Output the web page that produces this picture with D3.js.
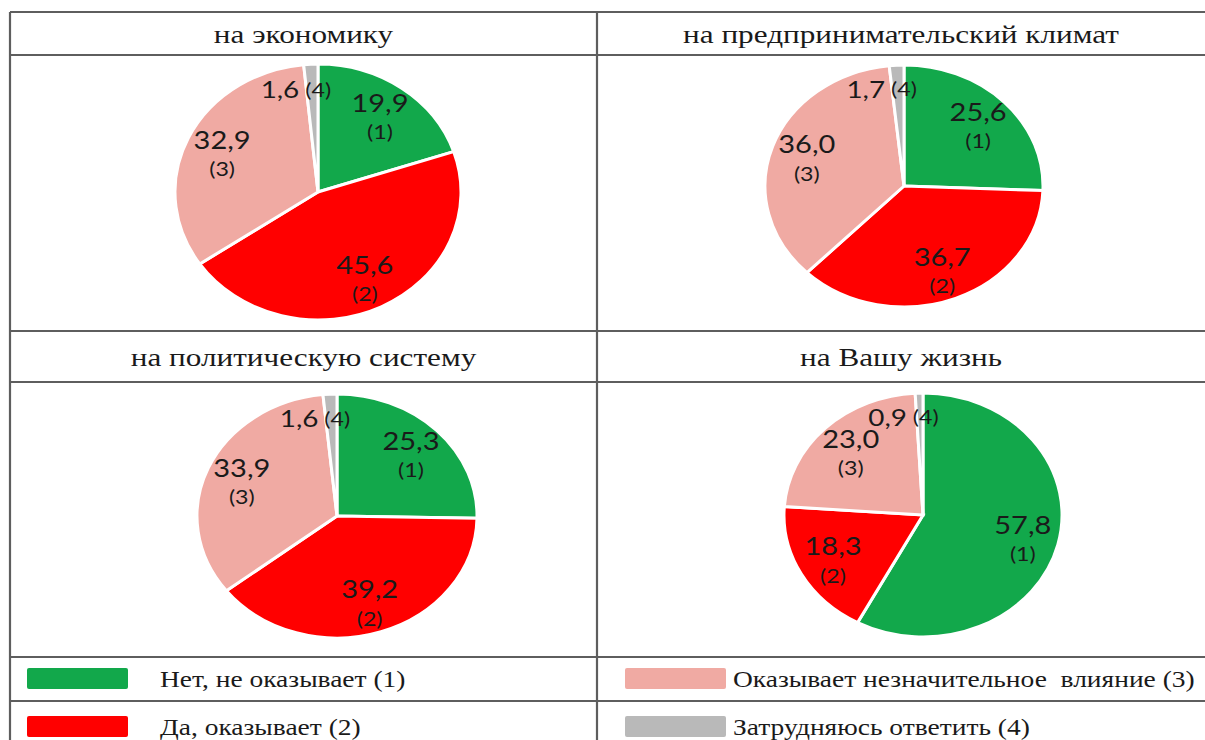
<!DOCTYPE html>
<html><head><meta charset="utf-8">
<script src="https://cdn.jsdelivr.net/npm/d3@7"></script>
<style>html,body{margin:0;padding:0;background:#fff;overflow:hidden}</style>
</head><body>
<svg id="chart" width="1205" height="740"></svg>
<script>
const titles = ["на экономику", "на предпринимательский климат", "на политическую систему", "на Вашу жизнь"];
const categories = ["Нет, не оказывает (1)", "Да, оказывает (2)", "Оказывает незначительное  влияние (3)", "Затрудняюсь ответить (4)"];
const codes = ["(1)", "(2)", "(3)", "(4)"];
const economy = [19.9, 45.6, 32.9, 1.6];
const business = [25.6, 36.7, 36.0, 1.7];
const politics = [25.3, 39.2, 33.9, 1.6];
const life = [57.8, 18.3, 23.0, 0.9];
const seriesList = [economy, business, politics, life];

const colors = ["#12a84b", "#ff0000", "#f0aaa3", "#b9b9b9"];
const svg = d3.select("#chart");
const W = 1205, H = 740;
const SX = 1.16; // horizontal stretch of the original picture
const fmt = v => d3.format(".1f")(v).replace(".", ",");
const SERIF = "Liberation Serif, Times New Roman, serif";
const SANS = "Lato, Open Sans, sans-serif";

function stext(parent, x, y, str, size, family, anchor, sx) {
  return parent.append("text")
    .attr("transform", `translate(${x},${y}) scale(${sx},1)`)
    .attr("dy", "0.35em").attr("text-anchor", anchor)
    .attr("font-family", family).attr("font-size", size)
    .attr("fill", "#1a1a1a").attr("xml:space", "preserve").style("white-space", "pre")
    .text(str);
}

// grid
const xL = 10, xM = 597, xR = W;
const hy = [12, 55, 331, 382, 657, 701];
const grid = svg.append("g").attr("stroke", "#5e5e5e").attr("stroke-width", 2.2);
hy.forEach(y => grid.append("line").attr("x1", xL).attr("x2", xR).attr("y1", y).attr("y2", y));
grid.append("line").attr("x1", xL).attr("x2", xL).attr("y1", hy[0]).attr("y2", H);
grid.append("line").attr("x1", xM).attr("x2", xM).attr("y1", hy[0]).attr("y2", H);

// titles
const titleCells = [[xL, xM, hy[0], hy[1]], [xM, xR, hy[0], hy[1]], [xL, xM, hy[2], hy[3]], [xM, xR, hy[2], hy[3]]];
titles.forEach((t, i) => {
  const c = titleCells[i];
  stext(svg, (c[0] + c[1]) / 2, (c[2] + c[3]) / 2, t, 26, SERIF, "middle", 1.2);
});

// pies
const pieGeo = [
  {cx: 318, cy: 192, rx: 143, ry: 128},
  {cx: 904, cy: 186, rx: 139, ry: 121},
  {cx: 337, cy: 516, rx: 140, ry: 122},
  {cx: 923, cy: 515, rx: 139, ry: 122}
];
const pie = d3.pie().sort(null).value(d => d);
seriesList.forEach((vals, i) => {
  const g = pieGeo[i];
  const arcs = pie(vals);
  const arc = d3.arc().innerRadius(0).outerRadius(g.ry);
  const grp = svg.append("g").attr("transform", `translate(${g.cx},${g.cy}) scale(${g.rx / g.ry},1)`);
  grp.selectAll("path").data(arcs).join("path")
    .attr("d", arc).attr("fill", (d, j) => colors[j])
    .attr("stroke", "#fff").attr("stroke-width", 3).attr("vector-effect", "non-scaling-stroke");
  const lab = svg.append("g");
  arcs.forEach((a, j) => {
    const mid = (a.startAngle + a.endAngle) / 2;
    if (a.value < 3) {
      const r = 0.8;
      const x = g.cx + g.rx * r * Math.sin(mid) - 10;
      const y = g.cy - g.ry * r * Math.cos(mid);
      stext(lab, x - 3, y, fmt(a.value), 24, SANS, "end", SX);
      stext(lab, x + 3, y, codes[j], 20, SANS, "start", SX);
    } else {
      const r = 0.74;
      const x = g.cx + g.rx * r * Math.sin(mid);
      const y = g.cy - g.ry * r * Math.cos(mid);
      stext(lab, x, y - 12, fmt(a.value), 25, SANS, "middle", SX);
      stext(lab, x, y + 17, codes[j], 20, SANS, "middle", SX);
    }
  });
});

// legend
const legPos = [
  {rx: 27, tx: 160, y: 679},
  {rx: 27, tx: 160, y: 727},
  {rx: 625, tx: 733, y: 679},
  {rx: 625, tx: 733, y: 727}
];
categories.forEach((c, i) => {
  const p = legPos[i];
  svg.append("rect").attr("x", p.rx).attr("y", p.y - 11).attr("width", 101).attr("height", 21)
    .attr("rx", 2).attr("fill", colors[i]);
  stext(svg, p.tx, p.y, c, 24, SERIF, "start", 1.145);
});
</script>
</body></html>
